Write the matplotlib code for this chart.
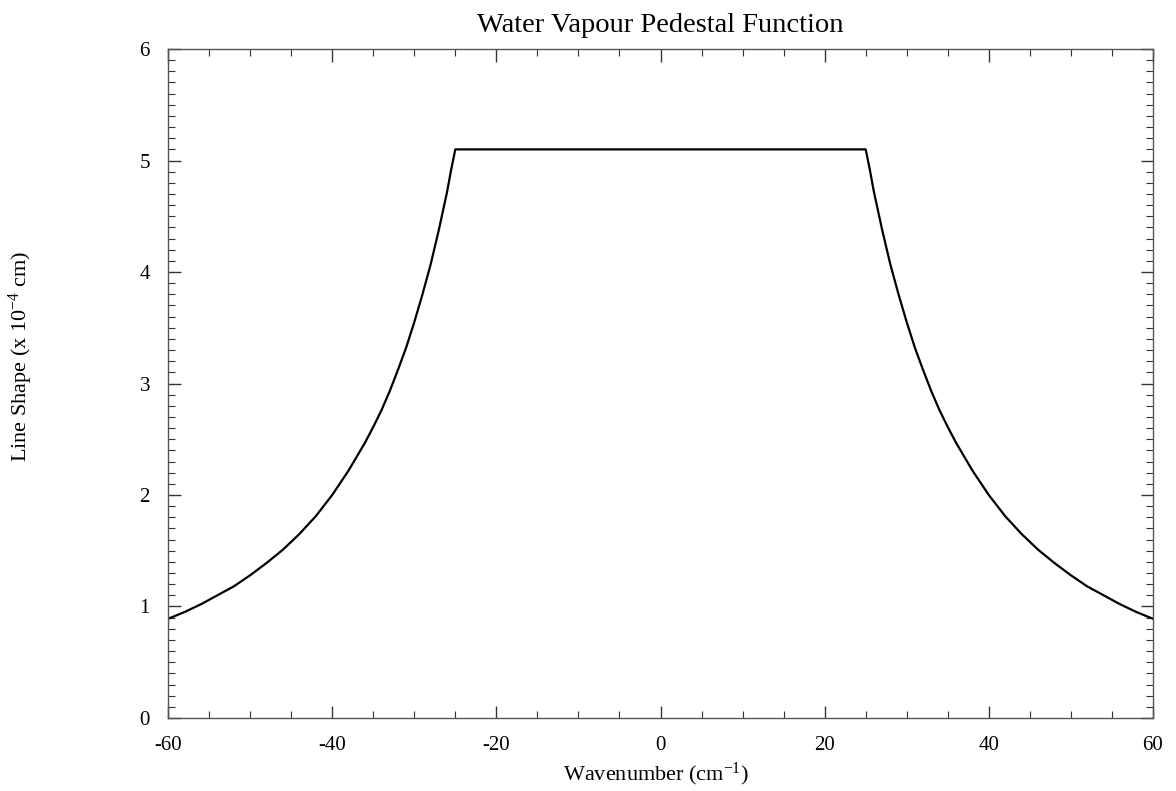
import matplotlib

matplotlib.use("Agg")
import matplotlib.pyplot as plt  # noqa: E402
import numpy as np  # noqa: E402
from matplotlib.ticker import MultipleLocator  # noqa: E402

# half profile (symmetric about 0)
half_wn = [0, 10, 20, 25, 25.5, 26, 26.5, 27, 28, 29, 30, 31, 32, 33, 34, 35, 36, 38,
           40, 42, 44, 46, 48, 50, 52, 54, 56, 58, 60]
half_val = [5.1, 5.1, 5.1, 5.1, 4.92, 4.72, 4.55, 4.38, 4.07, 3.80, 3.55, 3.32, 3.12,
            2.93, 2.76, 2.61, 2.47, 2.22, 2.0, 1.81, 1.65, 1.51, 1.39, 1.28, 1.18,
            1.10, 1.02, 0.95, 0.89]

xticks = [-60, -40, -20, 0, 20, 40, 60]
yticks = [0, 1, 2, 3, 4, 5, 6]

wn = np.concatenate([-np.array(half_wn[:0:-1]), np.array(half_wn)])
val = np.concatenate([np.array(half_val[:0:-1]), np.array(half_val)])

plt.rcParams["font.family"] = ["Liberation Serif", "DejaVu Serif"]
plt.rcParams["mathtext.fontset"] = "custom"
plt.rcParams["mathtext.rm"] = "Liberation Serif"
plt.rcParams["mathtext.it"] = "Liberation Serif:italic"
plt.rcParams["axes.unicode_minus"] = False

fig = plt.figure(figsize=(11.76, 7.91), dpi=100)
ax = fig.add_axes([0.1429, 0.0923, 0.8375, 0.8457])

ax.plot(wn, val, color="black", lw=1.6)

ax.set_xlim(-60, 60)
ax.set_ylim(0, 6)
ax.set_xticks(xticks)
ax.set_yticks(yticks)
ax.xaxis.set_minor_locator(MultipleLocator(5))
ax.yaxis.set_minor_locator(MultipleLocator(0.1))
ax.tick_params(which="both", direction="in", top=True, right=True, colors="#333333",
               labelcolor="black", labelsize=15)
ax.tick_params(which="major", length=9, width=1)
ax.tick_params(which="minor", length=5, width=0.8)
ax.tick_params(axis="x", which="major", pad=13)
ax.tick_params(axis="y", which="major", pad=13)
for s in ax.spines.values():
    s.set_color("#555555")
    s.set_linewidth(1.0)

ax.set_title("Water Vapour Pedestal Function", fontsize=20.5, pad=12)
ax.set_xlabel("Wavenumber (cm$^{-1}$)", fontsize=16)
ax.xaxis.set_label_coords(0.495, -0.064)
ax.set_ylabel("Line Shape (x 10$^{-4}$ cm)", fontsize=16)
ax.yaxis.set_label_coords(-0.135, 0.54)

fig.savefig("out.png", dpi=100)
plt.close(fig)
